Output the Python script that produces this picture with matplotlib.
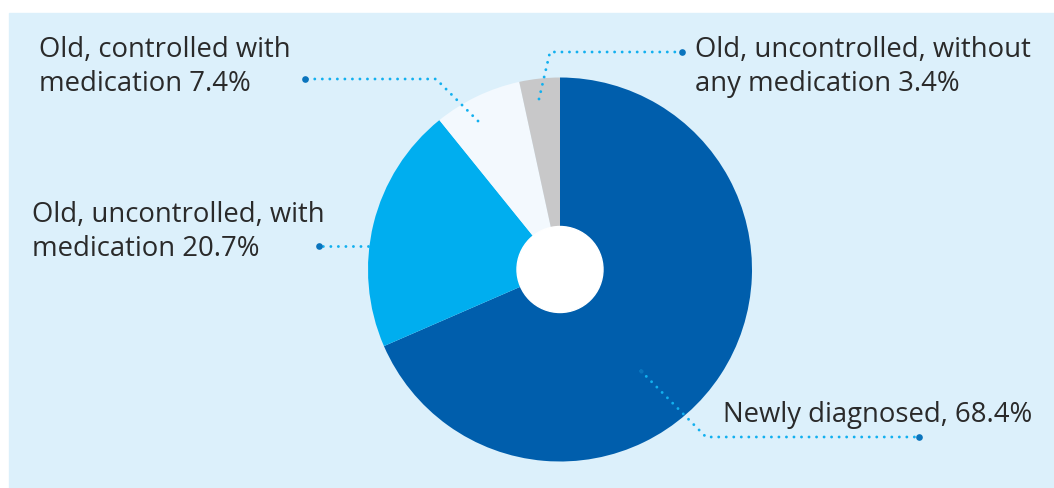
import matplotlib.pyplot as plt
from matplotlib.patches import Rectangle, Circle

W, H = 1054, 489

labels = ["Newly diagnosed, 68.4%",
          "Old, uncontrolled, with\nmedication 20.7%",
          "Old, controlled with\nmedication 7.4%",
          "Old, uncontrolled, without\nany medication 3.4%"]
shares = [68.4, 20.7, 7.4, 3.4]
colors = ["#005eac", "#00aeef", "#f3f9fe", "#c8c8c9"]

# label anchor (left x, first baseline y) in pixels from the top-left
label_pos = [(723, 422), (32, 222), (39, 57), (695, 57)]
# leader paths: inner end -> elbow -> outer dot
leaders = [[(641, 372), (706, 438), (919, 438)],
           [(368, 247), (319, 247)],
           [(478, 122), (436, 80), (305, 80)],
           [(539, 100), (550, 53), (682, 53)]]

BG = "#dcf0fb"
LINE = "#12b0ef"
DOT = "#0a74bd"
TEXT = "#2a2a2a"


def fy(y):
    return H - y


fig = plt.figure(figsize=(W / 100, H / 100), dpi=100)
ax = fig.add_axes([0, 0, 1, 1])

ax.add_patch(Rectangle((9, 0), W - 9, H - 14, color=BG, zorder=0))

cx, cy, r = 560, fy(270.5), 192
ax.pie(shares, colors=colors, startangle=90, counterclock=False,
       center=(cx, cy), radius=r, frame=True,
       wedgeprops=dict(linewidth=0, zorder=1))
ax.set_xlim(0, W)
ax.set_ylim(0, H)
ax.set_aspect("equal")
ax.axis("off")
ax.add_patch(Circle((cx, cy), 43, color="white", zorder=2))

for path in leaders:
    xs = [p[0] for p in path]
    ys = [fy(p[1]) for p in path]
    ax.plot(xs, ys, color=LINE, lw=2.1, linestyle=(0, (0.01, 2.57)),
            dash_capstyle="round", zorder=3)
    ax.plot(xs[-1], ys[-1], "o", color=DOT, ms=4.8, mec="none", zorder=4)
ax.plot(leaders[0][0][0], fy(leaders[0][0][1]), "o", color=DOT, ms=3,
        mec="none", zorder=4)

for text, (x, y) in zip(labels, label_pos):
    for i, line in enumerate(text.split("\n")):
        ax.text(x, fy(y + 34 * i), line, fontsize=19.8, family="Open Sans",
                color=TEXT, ha="left", va="baseline", zorder=5)

fig.savefig("out.png", dpi=100, facecolor="white")
